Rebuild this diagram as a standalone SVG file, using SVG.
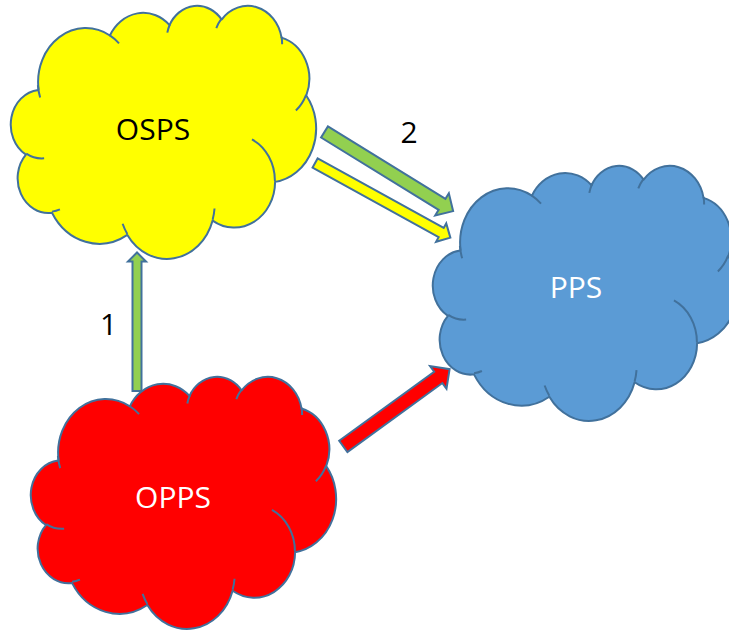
<svg xmlns="http://www.w3.org/2000/svg" width="729" height="630" viewBox="0 0 729 630">
<style>
.cloud{stroke:#41719C;stroke-width:2;vector-effect:non-scaling-stroke;stroke-linejoin:round}
.fold{fill:none;stroke:#41719C;stroke-width:2;vector-effect:non-scaling-stroke}
.arrow{stroke:#41719C;stroke-width:2;stroke-linejoin:miter}
.lbl{font-family:"Open Sans","Noto Sans",sans-serif;font-size:30px;text-anchor:middle}
</style>
<rect width="729" height="630" fill="#ffffff"/>
<g id="osps">
  <g transform="translate(11,5) scale(0.70602,0.58565)">
    <path class="cloud" fill="#FFFF00" d="M39 143.7A67.53 91.9 0 0 1 140.05 52.02A53.33 72.67 0 0 1 224.56 34.32A43.65 59.45 0 0 1 298.33 24.81A48.57 65.95 0 0 1 383.18 55.76A53.33 72.73 0 0 1 418.18 154.6A67.75 92.2 0 0 1 374.05 302.03A57.85 78.67 0 0 1 285.56 368.13A67.52 92.15 0 0 1 164.81 392.64A77.2 105.43 0 0 1 58.05 354.7A43.6 59.18 0 0 1 21.14 255.48A43.45 59.45 0 0 1 38.64 145.04Z"/>
    <path class="fold" d="M46.93 261.77A43.45 59.45 0 0 1 21.6 253.8M69.28 348.99A43.6 59.18 0 0 1 58.19 352.81M164.78 390.9A67.52 92.15 0 0 1 158.1 373.5M288.27 347.51A67.52 92.15 0 0 1 285.6 366.6M341.29 229.54A57.85 78.67 0 0 1 373.8 300.9M417.98 153.54A53.33 72.73 0 0 1 403.5 180.3M383.24 54.26A48.57 65.95 0 0 1 384 66.9M290.78 39.52A48.57 65.95 0 0 1 298.2 23.4M221.41 47.2A43.65 59.45 0 0 1 225 33.3M140 51.92A67.53 91.9 0 0 1 153 65.4M41.27 157.89A67.53 91.9 0 0 1 38.09 137.05"/>
  </g>
  <text class="lbl" x="153" y="140" fill="#000000">OSPS</text>
</g>
<g id="opps">
  <g transform="translate(31,376) scale(0.70602,0.58333)">
    <path class="cloud" fill="#FF0000" d="M39 143.7A67.53 91.9 0 0 1 140.05 52.02A53.33 72.67 0 0 1 224.56 34.32A43.65 59.45 0 0 1 298.33 24.81A48.57 65.95 0 0 1 383.18 55.76A53.33 72.73 0 0 1 418.18 154.6A67.75 92.2 0 0 1 374.05 302.03A57.85 78.67 0 0 1 285.56 368.13A67.52 92.15 0 0 1 164.81 392.64A77.2 105.43 0 0 1 58.05 354.7A43.6 59.18 0 0 1 21.14 255.48A43.45 59.45 0 0 1 38.64 145.04Z"/>
    <path class="fold" d="M46.93 261.77A43.45 59.45 0 0 1 21.6 253.8M69.28 348.99A43.6 59.18 0 0 1 58.19 352.81M164.78 390.9A67.52 92.15 0 0 1 158.1 373.5M288.27 347.51A67.52 92.15 0 0 1 285.6 366.6M341.29 229.54A57.85 78.67 0 0 1 373.8 300.9M417.98 153.54A53.33 72.73 0 0 1 403.5 180.3M383.24 54.26A48.57 65.95 0 0 1 384 66.9M290.78 39.52A48.57 65.95 0 0 1 298.2 23.4M221.41 47.2A43.65 59.45 0 0 1 225 33.3M140 51.92A67.53 91.9 0 0 1 153 65.4M41.27 157.89A67.53 91.9 0 0 1 38.09 137.05"/>
  </g>
  <text class="lbl" x="173" y="508" fill="#FFFFFF">OPPS</text>
</g>
<g id="pps">
  <g transform="translate(433,165) scale(0.70602,0.59028)">
    <path class="cloud" fill="#5B9BD5" d="M39 143.7A67.53 91.9 0 0 1 140.05 52.02A53.33 72.67 0 0 1 224.56 34.32A43.65 59.45 0 0 1 298.33 24.81A48.57 65.95 0 0 1 383.18 55.76A53.33 72.73 0 0 1 418.18 154.6A67.75 92.2 0 0 1 374.05 302.03A57.85 78.67 0 0 1 285.56 368.13A67.52 92.15 0 0 1 164.81 392.64A77.2 105.43 0 0 1 58.05 354.7A43.6 59.18 0 0 1 21.14 255.48A43.45 59.45 0 0 1 38.64 145.04Z"/>
    <path class="fold" d="M46.93 261.77A43.45 59.45 0 0 1 21.6 253.8M69.28 348.99A43.6 59.18 0 0 1 58.19 352.81M164.78 390.9A67.52 92.15 0 0 1 158.1 373.5M288.27 347.51A67.52 92.15 0 0 1 285.6 366.6M341.29 229.54A57.85 78.67 0 0 1 373.8 300.9M417.98 153.54A53.33 72.73 0 0 1 403.5 180.3M383.24 54.26A48.57 65.95 0 0 1 384 66.9M290.78 39.52A48.57 65.95 0 0 1 298.2 23.4M221.41 47.2A43.65 59.45 0 0 1 225 33.3M140 51.92A67.53 91.9 0 0 1 153 65.4M41.27 157.89A67.53 91.9 0 0 1 38.09 137.05"/>
  </g>
  <text class="lbl" x="576" y="298" fill="#FFFFFF">PPS</text>
</g>
<g id="connectors">
  <polygon class="arrow" fill="#92D050" points="132.5,391 132.5,261.5 128,261.5 137,252.5 146,261.5 141.5,261.5 141.5,391"/>
  <polygon class="arrow" fill="#92D050" transform="translate(324.5,132) rotate(31.6)" points="0,-6.5 138,-6.5 138,-13 151,0 138,13 138,6.5 0,6.5"/>
  <polygon class="arrow" fill="#FFFF00" transform="translate(315.1,163) rotate(28.9)" points="0,-5.25 144,-5.25 144,-10.5 154.5,0 144,10.5 144,5.25 0,5.25"/>
  <polygon class="arrow" fill="#FF0000" transform="translate(343.3,446.4) rotate(-36)" points="0,-7 117.4,-7 117.4,-14 131.4,0 117.4,14 117.4,7 0,7"/>
  <text class="lbl" x="108.5" y="335" fill="#000000">1</text>
  <text class="lbl" x="409" y="143" fill="#000000">2</text>
</g>
</svg>
